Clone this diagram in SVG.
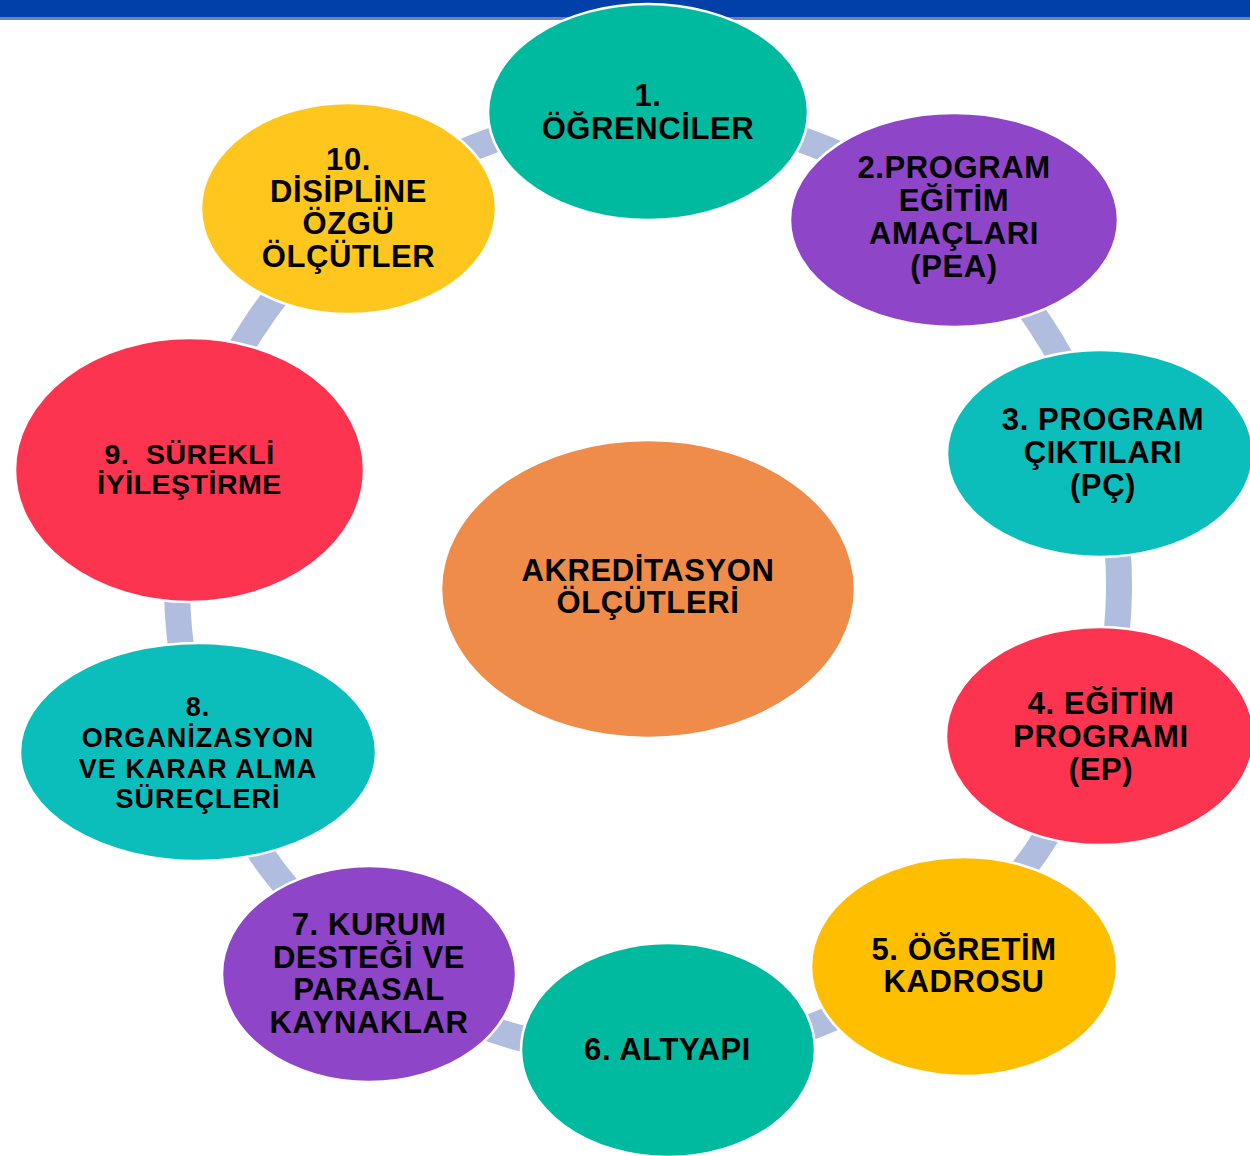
<svg xmlns="http://www.w3.org/2000/svg" width="1250" height="1156" viewBox="0 0 1250 1156">
<style>
.n{stroke:#ffffff;stroke-width:2.5}
.t{font-family:"Liberation Sans",Arial,sans-serif;font-weight:bold;font-size:31px;letter-spacing:0.6px;fill:#000;text-anchor:middle}
.s{font-size:27px;letter-spacing:1px}
.m{font-size:28.5px;letter-spacing:0.5px}
.c{fill:none;stroke:#B0BDDF;stroke-width:26}
.tg{fill:#00BA9F}.pu{fill:#8E45C8}.tq{fill:#0BBDBB}.rd{fill:#FD3450}
</style>
<rect x="0" y="0" width="1250" height="1156" fill="#ffffff"/>
<rect x="0" y="0" width="1250" height="17" fill="#0040A8"/>
<rect x="0" y="17" width="1250" height="3" fill="#7080B0"/>
<g id="connectors">
<path class="c" d="M648,114 A471,471 0 0 1 950.1,223.6"/>
<path class="c" d="M950.1,223.6 A471,471 0 0 1 1100.1,452.8"/>
<path class="c" d="M1100.1,452.8 A471,471 0 0 1 1094.9,733.7"/>
<path class="c" d="M1094.9,733.7 A471,471 0 0 1 948.9,947.4"/>
<path class="c" d="M948.9,947.4 A471,471 0 0 1 668.5,1055.5"/>
<path class="c" d="M668.5,1055.5 A471,471 0 0 1 373.2,967.5"/>
<path class="c" d="M373.2,967.5 A471,471 0 0 1 206.5,749.2"/>
<path class="c" d="M206.5,749.2 A471,471 0 0 1 191.2,470.3"/>
<path class="c" d="M191.2,470.3 A471,471 0 0 1 354.1,216.9"/>
<path class="c" d="M354.1,216.9 A471,471 0 0 1 648,114"/>
</g>
<g id="center">
<ellipse class="n" cx="648" cy="589" rx="207" ry="149" fill="#F08C4A"/>
<text class="t" x="648" y="581">AKREDİTASYON</text>
<text class="t" x="648" y="613">ÖLÇÜTLERİ</text>
</g>
<g id="node1">
<ellipse class="n tg" cx="648" cy="112" rx="160" ry="108"/>
<text class="t" x="648" y="106">1.</text>
<text class="t" x="648" y="139">ÖĞRENCİLER</text>
</g>
<g id="node2">
<ellipse class="n pu" cx="954" cy="220" rx="164" ry="107"/>
<text class="t" x="954" y="178">2.PROGRAM</text>
<text class="t" x="954" y="211">EĞİTİM</text>
<text class="t" x="954" y="244">AMAÇLARI</text>
<text class="t" x="954" y="277">(PEA)</text>
</g>
<g id="node3">
<ellipse class="n tq" cx="1100" cy="453.5" rx="153" ry="103.5"/>
<text class="t" x="1103" y="430">3. PROGRAM</text>
<text class="t" x="1103" y="463">ÇIKTILARI</text>
<text class="t" x="1103" y="496">(PÇ)</text>
</g>
<g id="node4">
<ellipse class="n rd" cx="1100" cy="736" rx="154" ry="109"/>
<text class="t" x="1101" y="714">4. EĞİTİM</text>
<text class="t" x="1101" y="747">PROGRAMI</text>
<text class="t" x="1101" y="780">(EP)</text>
</g>
<g id="node5">
<ellipse class="n" cx="964" cy="966.5" rx="153" ry="109.5" fill="#FFBE00"/>
<text class="t" x="964" y="960">5. ÖĞRETİM</text>
<text class="t" x="964" y="992">KADROSU</text>
</g>
<g id="node6">
<ellipse class="n tg" cx="668" cy="1050" rx="147" ry="107"/>
<text class="t" x="667.5" y="1060">6. ALTYAPI</text>
</g>
<g id="node7">
<ellipse class="n pu" cx="369" cy="974" rx="147" ry="108"/>
<text class="t" x="369" y="935">7. KURUM</text>
<text class="t" x="369" y="967.5">DESTEĞİ VE</text>
<text class="t" x="369" y="1000">PARASAL</text>
<text class="t" x="369" y="1033">KAYNAKLAR</text>
</g>
<g id="node8">
<ellipse class="n tq" cx="198" cy="752" rx="178" ry="109"/>
<text class="t s" x="198" y="716">8.</text>
<text class="t s" x="198" y="747">ORGANİZASYON</text>
<text class="t s" x="198" y="778">VE KARAR ALMA</text>
<text class="t s" x="198" y="808">SÜREÇLERİ</text>
</g>
<g id="node9">
<ellipse class="n rd" cx="189.5" cy="470" rx="174.5" ry="132"/>
<text class="t m" x="189.5" y="464">9.&#160; SÜREKLİ</text>
<text class="t m" x="189.5" y="493.5">İYİLEŞTİRME</text>
</g>
<g id="node10">
<ellipse class="n" cx="348.5" cy="208.5" rx="147.5" ry="105.5" fill="#FFC71E"/>
<text class="t" x="348.5" y="170">10.</text>
<text class="t" x="348.5" y="202">DİSİPLİNE</text>
<text class="t" x="348.5" y="234">ÖZGÜ</text>
<text class="t" x="348.5" y="267">ÖLÇÜTLER</text>
</g>
</svg>
